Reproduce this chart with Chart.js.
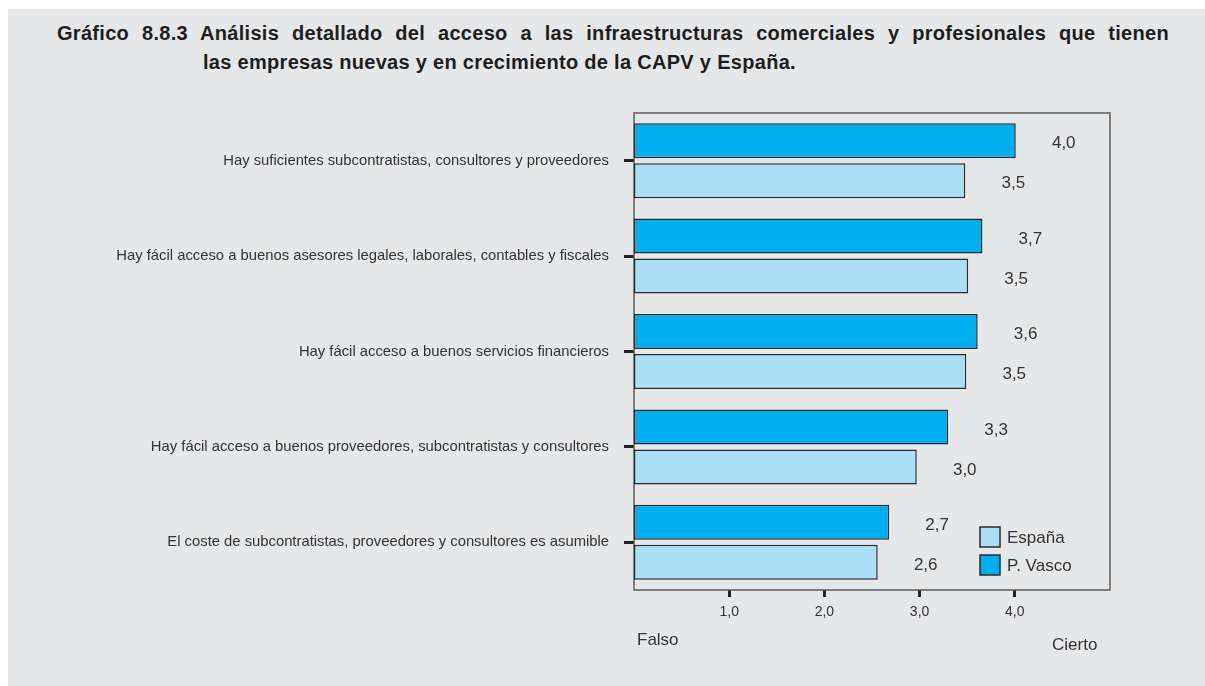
<!DOCTYPE html>
<html lang="es">
<head>
<meta charset="utf-8">
<script src="https://cdn.jsdelivr.net/npm/chart.js@4"></script>
<style>
  body { margin: 0; background: #fff; width: 1205px; height: 686px; position: relative; overflow: hidden; font-family: "Liberation Sans", Arial, sans-serif; }
  #panel { position: absolute; left: 8px; top: 9px; width: 1197px; height: 677px; background: #e6e7e9; }
  .titulo { position: absolute; font-weight: bold; font-size: 20px; letter-spacing: 0.3px; color: #1e1e1e; white-space: nowrap; }
  #t1 { left: 57px; top: 22px; width: 1112px; white-space: normal; text-align: justify; text-align-last: justify; }
  #t2 { left: 203px; top: 51px; }
  #grafico { position: absolute; left: 0; top: 0; }
</style>
</head>
<body>
<div id="panel"></div>
<div class="titulo" id="t1">Gráfico 8.8.3 Análisis detallado del acceso a las infraestructuras comerciales y profesionales que tienen</div>
<div class="titulo" id="t2">las empresas nuevas y en crecimiento de la CAPV y España.</div>
<canvas id="grafico" width="1205" height="686"></canvas>
<script>
const categorias = [
  'Hay suficientes subcontratistas, consultores y proveedores',
  'Hay fácil acceso a buenos asesores legales, laborales, contables y fiscales',
  'Hay fácil acceso a buenos servicios financieros',
  'Hay fácil acceso a buenos proveedores, subcontratistas y consultores',
  'El coste de subcontratistas, proveedores y consultores es asumible'
];
const pVasco = [4.01, 3.66, 3.61, 3.30, 2.68];
const espana = [3.48, 3.51, 3.49, 2.97, 2.56];
const ticksX = [1, 2, 3, 4];

function coma(v) {
  return v.toFixed(1).replace('.', ',');
}

const fuente = '"Liberation Sans", Arial, sans-serif';

const extras = {
  id: 'extras',
  beforeDatasetsDraw(chart) {
    const a = chart.chartArea;
    const ctx = chart.ctx;
    ctx.save();
    ctx.strokeStyle = '#5a5a5a';
    ctx.lineWidth = 1.5;
    ctx.strokeRect(a.left, a.top, a.right - a.left, a.bottom - a.top);
    ctx.restore();
  },
  afterDatasetsDraw(chart) {
    const ctx = chart.ctx;
    ctx.save();
    ctx.font = '17px ' + fuente;
    ctx.fillStyle = '#333';
    ctx.textAlign = 'center';
    ctx.textBaseline = 'middle';
    chart.data.datasets.forEach((ds, i) => {
      chart.getDatasetMeta(i).data.forEach((bar, j) => {
        ctx.fillText(coma(ds.data[j]), bar.x + 48, bar.y + 3);
      });
    });
    ctx.restore();
  },
  afterDraw(chart) {
    const a = chart.chartArea;
    const ctx = chart.ctx;
    ctx.save();
    ctx.font = '17px ' + fuente;
    ctx.textBaseline = 'middle';
    ctx.textAlign = 'left';
    // leyenda (España arriba, P. Vasco abajo)
    const orden = [1, 0];
    orden.forEach((i, k) => {
      const ds = chart.data.datasets[i];
      const x = a.right - 130;
      const y = a.bottom - 63 + k * 28;
      ctx.fillStyle = ds.backgroundColor;
      ctx.fillRect(x, y, 20, 20);
      ctx.strokeStyle = '#2b2b2b';
      ctx.lineWidth = 1.5;
      ctx.strokeRect(x, y, 20, 20);
      ctx.fillStyle = '#333';
      ctx.fillText(ds.label, x + 27, y + 11);
    });
    ctx.fillStyle = '#333';
    ctx.fillText('Falso', a.left + 3, a.bottom + 50);
    ctx.fillText('Cierto', a.right - 58, a.bottom + 55);
    ctx.restore();
  }
};

new Chart(document.getElementById('grafico'), {
  type: 'bar',
  data: {
    labels: categorias,
    datasets: [
      {
        label: 'P. Vasco',
        data: pVasco,
        backgroundColor: '#00adee',
        borderColor: '#2b2b2b',
        borderWidth: 1.5,
        borderSkipped: false
      },
      {
        label: 'España',
        data: espana,
        backgroundColor: '#aadff7',
        borderColor: '#2b2b2b',
        borderWidth: 1.5,
        borderSkipped: false
      }
    ]
  },
  options: {
    indexAxis: 'y',
    responsive: false,
    animation: false,
    devicePixelRatio: 1,
    categoryPercentage: 0.839,
    barPercentage: 0.875,
    layout: { padding: { left: 0, top: 113, right: 95, bottom: 0 } },
    plugins: {
      legend: { display: false },
      tooltip: { enabled: false }
    },
    scales: {
      x: {
        min: 0,
        max: 5,
        afterBuildTicks(scale) {
          scale.ticks = ticksX.map(v => ({ value: v }));
        },
        afterFit(scale) { scale.height = 96; },
        border: { display: false },
        grid: {
          drawOnChartArea: false,
          drawTicks: true,
          tickLength: 7,
          lineWidth: 3,
          color: '#222'
        },
        ticks: {
          padding: 7,
          color: '#333',
          font: { family: fuente, size: 14 },
          callback: v => coma(v)
        }
      },
      y: {
        afterFit(scale) { scale.width = 634; },
        border: { display: false },
        grid: {
          offset: false,
          drawOnChartArea: false,
          drawTicks: true,
          tickLength: 10,
          lineWidth: 3,
          color: '#222'
        },
        ticks: {
          padding: 15,
          color: '#333',
          font: { family: fuente, size: 14.8 }
        }
      }
    }
  },
  plugins: [extras]
});
</script>
</body>
</html>
